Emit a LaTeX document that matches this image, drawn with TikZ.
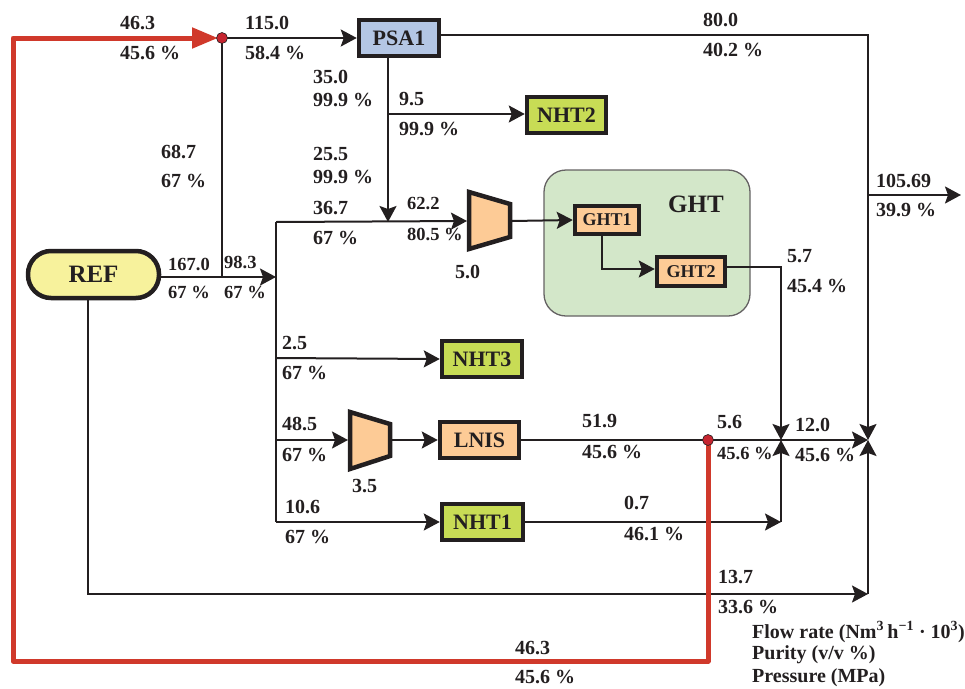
\documentclass[tikz,border=0pt]{standalone}
\usepackage{fontspec}
\setmainfont{Liberation Serif}
\usetikzlibrary{arrows.meta}
\definecolor{ink}{HTML}{231F20}
\definecolor{redl}{HTML}{D0392B}
\definecolor{reddot}{HTML}{C62530}
\definecolor{psablue}{HTML}{B4C6E4}
\definecolor{nhtgreen}{HTML}{C8DC55}
\definecolor{refyellow}{HTML}{F7F29C}
\definecolor{orng}{HTML}{FDCB96}
\definecolor{ghtbg}{HTML}{D3E7C9}
\tikzset{
  box/.style={draw=ink, line width=4.5pt, inner sep=0pt, text=ink, font=\bfseries\fontsize{22}{26}\selectfont},
  smallbox/.style={box, font=\bfseries\fontsize{18}{22}\selectfont},
  conn/.style={draw=ink, line width=2pt},
  arr/.style={conn, -{Stealth[length=16pt,width=17pt,inset=3pt]}},
  redline/.style={draw=redl, line width=5pt, line join=round, -{Triangle[length=26pt,width=20pt]}},
  lab/.style={anchor=west, inner sep=0pt, text=ink, font=\bfseries\fontsize{20}{24}\selectfont},
  labs/.style={lab, font=\bfseries\fontsize{18.5}{22}\selectfont},
  comp/.style={draw=ink, line width=4.5pt, fill=orng, line join=miter},
  rdot/.style={circle, fill=reddot, draw=ink, line width=0.6pt, minimum size=11pt, inner sep=0pt}
}
\begin{document}
\begin{tikzpicture}[x=1pt,y=-1pt]
\useasboundingbox (0,0) rectangle (965,688);
% GHT group
\node[draw=ink!70, line width=1.3pt, fill=ghtbg, rounded corners=22pt, minimum width=206pt, minimum height=146pt, inner sep=0pt] (ghtgrp) at (647,243) {};
\node[anchor=center, inner sep=0pt, text=ink, font=\bfseries\fontsize{25}{30}\selectfont] (ghtlab) at (696,204) {GHT};
% boxes
\node[box, fill=psablue, minimum width=80pt, minimum height=36pt] (PSA1) at (399,38) {PSA1};
\node[box, fill=nhtgreen, minimum width=79pt, minimum height=36pt] (NHT2) at (566.5,115) {NHT2};
\node[smallbox, fill=orng, minimum width=64pt, minimum height=28pt] (GHT1) at (607,220) {GHT1};
\node[smallbox, fill=orng, minimum width=68pt, minimum height=29pt] (GHT2) at (691,271.5) {GHT2};
\node[box, fill=nhtgreen, minimum width=80pt, minimum height=36pt] (NHT3) at (482,359) {NHT3};
\node[box, fill=orng, minimum width=79pt, minimum height=36pt] (LNIS) at (479.5,440) {LNIS};
\node[box, fill=nhtgreen, minimum width=81pt, minimum height=36pt] (NHT1) at (482.5,522) {NHT1};
\node[box, fill=refyellow, rounded corners=23pt, minimum width=131pt, minimum height=47pt, font=\bfseries\fontsize{25}{30}\selectfont] (REF) at (93.5,274.5) {REF};
% compressors
\draw[comp] (469,192) -- (510,204) -- (510,237) -- (469,249) -- cycle;
\draw[comp] (350,412) -- (390,424) -- (390,456) -- (350,469) -- cycle;
\coordinate (c1in) at (467,221);
\coordinate (c1out) at (512,221);
\coordinate (c2in) at (348,440);
\coordinate (c2out) at (392,440);
% coordinates
\coordinate (dot1) at (222,38);
\coordinate (dot2) at (708,440);
\coordinate (j1) at (222,277);
\coordinate (trunkref) at (276,277);
\coordinate (ttop) at (276,222);
\coordinate (t2) at (276,358);
\coordinate (t3) at (276,440);
\coordinate (tbot) at (276,522);
\coordinate (psad) at (388,222);
\coordinate (psab) at (388,114);
\coordinate (psatop) at (868,35);
\coordinate (mix2) at (868,440);
\coordinate (outj) at (868,195);
\coordinate (out1) at (961,195);
\coordinate (g1b) at (602,269);
\coordinate (g2r) at (781,267);
\coordinate (mix1) at (781,440);
\coordinate (n1r) at (781,522);
\coordinate (refb) at (88,594);
\coordinate (botr) at (868,594);
\coordinate (rc1) at (708,661);
\coordinate (rc2) at (13,661);
\coordinate (rc3) at (13,38);
% connectors
\draw[arr] (dot1) -- (PSA1.west);
\draw[conn] (dot1) -- (j1);
\draw[arr] (REF.east |- trunkref) -- (trunkref);
\draw[conn] (ttop) -- (tbot);
\draw[arr] (ttop) -- (c1in);
\draw[arr] (PSA1.south -| psad) -- (psad);
\draw[arr] (psab) -- (NHT2.west |- psab);
\draw[arr] (PSA1.east |- psatop) -- (psatop) -- (mix2);
\draw[arr] (outj) -- (out1);
\draw[arr] (c1out) -- (GHT1.west);
\draw[arr] (GHT1.south -| g1b) -- (g1b) -- (GHT2.west |- g1b);
\draw[arr] (GHT2.east |- g2r) -- (g2r) -- (mix1);
\draw[arr] (t2) -- (NHT3.west);
\draw[arr] (t3) -- (c2in);
\draw[arr] (c2out) -- (LNIS.west);
\draw[arr] (LNIS.east) -- (mix2);
\draw[arr] (tbot) -- (NHT1.west);
\draw[arr] (NHT1.east) -- (n1r);
\draw[arr] (n1r) -- (mix1);
\draw[arr] (REF.south -| refb) -- (refb) -- (botr);
\draw[arr] (botr) -- (mix2);
% red recycle
\draw[redline, shorten >=4pt] (dot2) -- (rc1) -- (rc2) -- (rc3) -- (dot1);
\node[rdot] (d1) at (dot1) {};
\node[rdot] (d2) at (dot2) {};
% labels
\node[lab] (l1) at (120,23) {46.3};
\node[lab] (l2) at (120,53) {45.6 \%};
\node[lab] (l3) at (245,23) {115.0};
\node[lab] (l4) at (245,53) {58.4 \%};
\node[lab] (l5) at (703,20) {80.0};
\node[lab] (l6) at (703,50) {40.2 \%};
\node[lab] (l7) at (313,77) {35.0};
\node[lab] (l8) at (313,100) {99.9 \%};
\node[lab] (l9) at (399,99) {9.5};
\node[lab] (l10) at (399,129) {99.9 \%};
\node[lab] (l11) at (161,152) {68.7};
\node[lab] (l12) at (161,181) {67 \%};
\node[lab] (l13) at (313,154) {25.5};
\node[lab] (l14) at (313,177) {99.9 \%};
\node[lab] (l15) at (313,208) {36.7};
\node[lab] (l16) at (313,238) {67 \%};
\node[labs] (l17) at (407,204) {62.2};
\node[labs] (l18) at (407,234) {80.5 \%};
\node[lab] (l19) at (455,272) {5.0};
\node[lab] (l20) at (876,181) {105.69};
\node[lab] (l21) at (876,210) {39.9 \%};
\node[lab] (l22) at (787,256) {5.7};
\node[lab] (l23) at (787,286) {45.4 \%};
\node[labs] (l24) at (168,264) {167.0};
\node[labs] (l25) at (168,292) {67 \%};
\node[labs] (l26) at (224,262) {98.3};
\node[labs] (l27) at (224,292) {67 \%};
\node[lab] (l28) at (282,343) {2.5};
\node[lab] (l29) at (282,373) {67 \%};
\node[lab] (l30) at (282,424) {48.5};
\node[lab] (l31) at (282,455) {67 \%};
\node[lab] (l32) at (352,486) {3.5};
\node[lab] (l33) at (285,507) {10.6};
\node[lab] (l34) at (285,537) {67 \%};
\node[lab] (l35) at (582,421) {51.9};
\node[lab] (l36) at (582,452) {45.6 \%};
\node[lab] (l37) at (717,422) {5.6};
\node[labs] (l38) at (717,453) {45.6 \%};
\node[lab] (l39) at (795,425) {12.0};
\node[lab] (l40) at (795,455) {45.6 \%};
\node[lab] (l41) at (624,503) {0.7};
\node[lab] (l42) at (624,534) {46.1 \%};
\node[lab] (l43) at (718,577) {13.7};
\node[lab] (l44) at (718,607) {33.6 \%};
\node[lab] (l45) at (515,648) {46.3};
\node[lab] (l46) at (515,677) {45.6 \%};
\node[lab] (leg1) at (752,632) {Flow rate (Nm\textsuperscript{3}\,h\textsuperscript{−1} · 10\textsuperscript{3})};
\node[lab] (leg2) at (752,655) {Purity (v/v \%)};
\node[lab] (leg3) at (752,678) {Pressure (MPa)};
\end{tikzpicture}
\end{document}
